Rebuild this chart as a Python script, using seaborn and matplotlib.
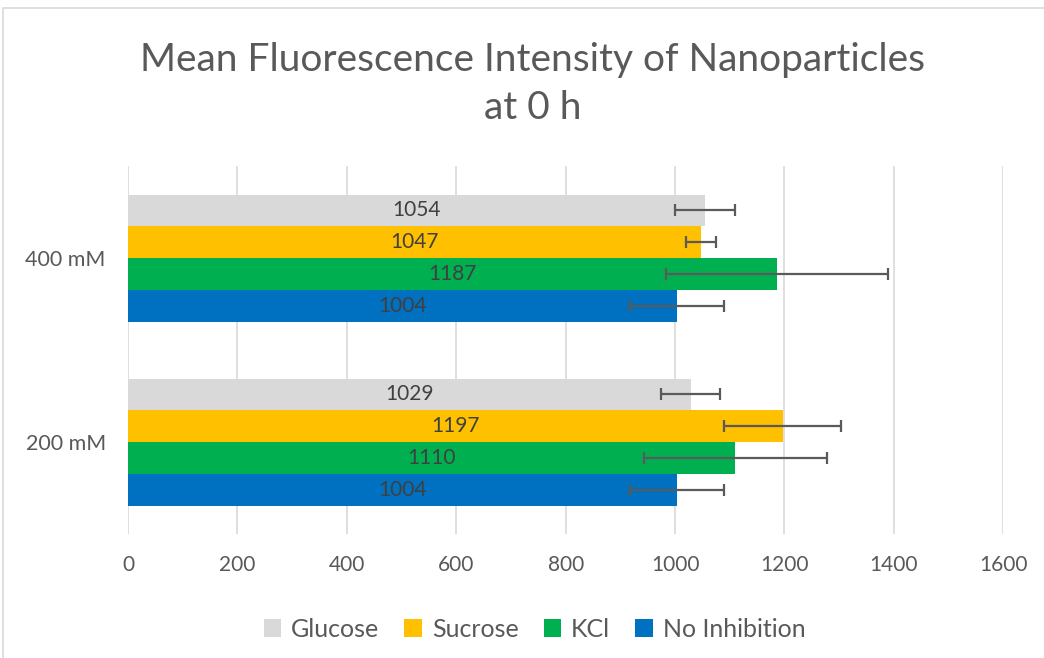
import pandas as pd
import matplotlib.pyplot as plt
import seaborn as sns
from matplotlib.patches import Rectangle, Patch

sns.set_theme(style="white")
plt.rcParams["font.family"] = ["Lato", "DejaVu Sans"]

# Data
concentrations = ["400 mM", "200 mM"]
treatments = ["Glucose", "Sucrose", "KCl", "No Inhibition"]
glucose = [1054, 1029]
sucrose = [1047, 1197]
kcl = [1187, 1110]
no_inhibition = [1004, 1004]
glucose_err = [55, 54]
sucrose_err = [27, 107]
kcl_err = [203, 167]
no_inhibition_err = [86, 86]

colors = ["#D9D9D9", "#FFC000", "#00B050", "#0070C0"]
text_grey = "#595959"

values = [glucose, sucrose, kcl, no_inhibition]
errors = [glucose_err, sucrose_err, kcl_err, no_inhibition_err]

rows = []
for t, vals in zip(treatments, values):
    for c, v in zip(concentrations, vals):
        rows.append({"conc": c, "treatment": t, "mfi": v})
df = pd.DataFrame(rows)

fig = plt.figure(figsize=(10.44, 6.58), dpi=100)
ax = fig.add_axes([0.1226, 0.1884, 0.8384, 0.5593])

sns.barplot(
    data=df, y="conc", x="mfi", hue="treatment", order=concentrations,
    hue_order=treatments, palette=colors, width=0.69, orient="h",
    saturation=1, ax=ax, legend=False, linewidth=0,
)

# error bars and value labels
for cont, errs in zip(ax.containers, errors):
    for bar, e in zip(cont, errs):
        yc = bar.get_y() + bar.get_height() / 2
        w = bar.get_width()
        ax.errorbar(w, yc, xerr=e, fmt="none", ecolor="#5a5a5a",
                    elinewidth=1.6, capsize=4, capthick=1.6, zorder=4)
        ax.text(w / 2, yc, f"{w:.0f}", ha="center", va="center",
                fontsize=15, color="#404040", zorder=5)

ax.set_xlim(0, 1600)
ax.set_ylim(1.5, -0.5)
ax.set_xticks(range(0, 1601, 200))
ax.xaxis.grid(True, color="#D9D9D9", linewidth=1.2)
ax.set_axisbelow(True)
for s in ax.spines.values():
    s.set_visible(False)
ax.tick_params(axis="x", pad=15, labelsize=15, labelcolor=text_grey, length=0)
ax.tick_params(axis="y", pad=16, labelsize=15.5, labelcolor=text_grey, length=0)
ax.set_xlabel("")
ax.set_ylabel("")

fig.text(0.51, 0.872, "Mean Fluorescence Intensity of Nanoparticles\nat 0 h",
         ha="center", va="center", fontsize=28, color=text_grey,
         linespacing=1.4)

handles = [Patch(facecolor=c, edgecolor="none") for c in colors]
fig.legend(handles, treatments, loc="center", bbox_to_anchor=(0.512, 0.044),
           ncol=4, frameon=False, fontsize=18, labelcolor=text_grey,
           handlelength=0.7, handleheight=0.7, handletextpad=0.4,
           columnspacing=1.0)

fig.patches.append(Rectangle((0.003, -0.01), 1.1, 0.998, transform=fig.transFigure,
                             fill=False, edgecolor="#D9D9D9", linewidth=1.2))

plt.savefig("out.png", dpi=100)
